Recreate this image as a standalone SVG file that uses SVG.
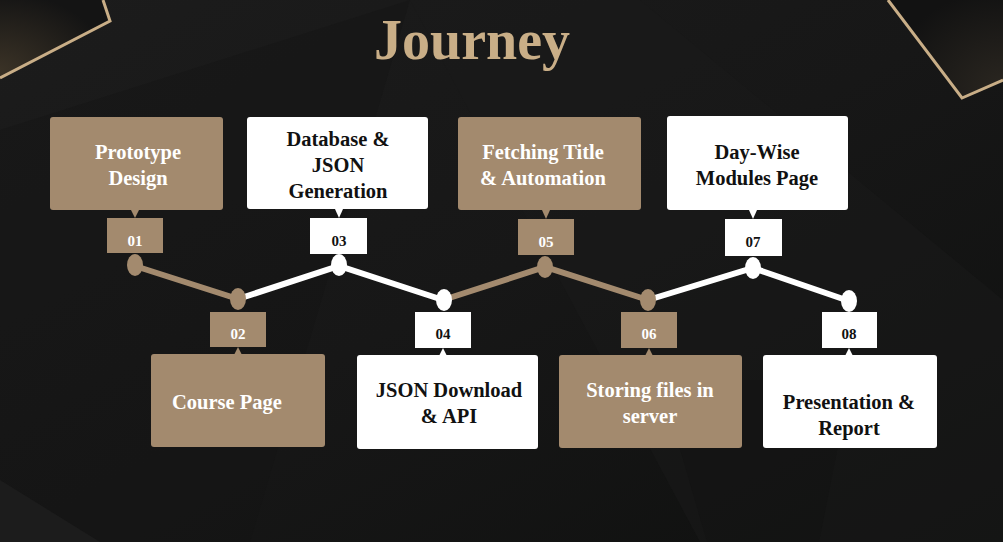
<svg xmlns="http://www.w3.org/2000/svg" width="1003" height="542" viewBox="0 0 1003 542">
<defs>
<linearGradient id="bg" x1="0" y1="0" x2="1" y2="1">
<stop offset="0" stop-color="#1c1c1c"/>
<stop offset="0.5" stop-color="#171717"/>
<stop offset="1" stop-color="#0f100f"/>
</linearGradient>
<radialGradient id="glowTL" cx="0" cy="0.9" r="1">
<stop offset="0" stop-color="#3a3226"/>
<stop offset="1" stop-color="#141414"/>
</radialGradient>
<radialGradient id="glowTR" cx="1" cy="0.9" r="1">
<stop offset="0" stop-color="#2a2620"/>
<stop offset="1" stop-color="#121212"/>
</radialGradient>
<style>
.brown{fill:#a38a6e}
.white{fill:#ffffff}
.box{rx:3;ry:3}
.t{font-family:"Liberation Serif","DejaVu Serif",serif;font-weight:bold;font-size:20.5px;text-anchor:middle}
.tw{fill:#ffffff}
.tb{fill:#111111}
.n{font-family:"Liberation Serif","DejaVu Serif",serif;font-weight:bold;font-size:15px;text-anchor:middle}
.lb{stroke:#a38a6e;stroke-width:6;fill:none;stroke-linecap:round}
.lw{stroke:#ffffff;stroke-width:6;fill:none;stroke-linecap:round}
.gold{stroke:#c9ae87;stroke-width:3;fill:none}
</style>
</defs>
<g id="background">
<rect x="0" y="0" width="1003" height="542" fill="url(#bg)"/>
<polygon points="410,0 640,0 1003,300 1003,542 700,542" fill="#1a1a1a" opacity="0.5"/>
<polygon points="0,130 410,0 250,542 0,542" fill="#151515" opacity="0.4"/>
<polygon points="0,480 0,542 100,542" fill="#1c1c1c"/>
<polygon points="660,380 707,542 819,542 851,380" fill="#111111" opacity="0.4"/>
<polygon points="0,0 103,0 110,21 0,78" fill="url(#glowTL)"/>
<polyline class="gold" points="0,78 110,21 103,0"/>
<polygon points="888,0 1003,0 1003,80 962,98" fill="url(#glowTR)"/>
<polyline class="gold" points="888,0 962,98 1003,80"/>
</g>
<g id="title">
<text x="472" y="59" font-family="'Liberation Serif','DejaVu Serif',serif" font-weight="bold" font-size="56" fill="#c9ae87" text-anchor="middle">Journey</text>
</g>
<g id="connectors">
<polyline class="lb" points="135,266 238,299"/>
<polyline class="lw" points="238,299 339,266 443,300"/>
<polyline class="lb" points="443,300 545,267 648,300"/>
<polyline class="lw" points="648,300 753,268 849,301"/>
<ellipse class="brown" cx="135" cy="265" rx="8" ry="11"/>
<ellipse class="brown" cx="238" cy="299" rx="8" ry="11"/>
<ellipse class="white" cx="339" cy="265" rx="8" ry="11"/>
<ellipse class="white" cx="444" cy="300" rx="8" ry="11"/>
<ellipse class="brown" cx="545" cy="267" rx="8" ry="11"/>
<ellipse class="brown" cx="648" cy="300" rx="8" ry="11"/>
<ellipse class="white" cx="753" cy="268" rx="8" ry="11"/>
<ellipse class="white" cx="849" cy="301" rx="8" ry="11"/>
</g>
<g id="step01">
<rect class="brown box" x="50" y="117" width="173" height="93"/>
<polygon class="brown" points="131,210 139,210 135,218"/>
<rect class="brown" x="107" y="218" width="56" height="35"/>
<text class="n tw" x="135" y="246">01</text>
<text class="t tw" x="138" y="159">Prototype</text>
<text class="t tw" x="138" y="185">Design</text>
</g>
<g id="step02">
<rect class="brown" x="210" y="312" width="56" height="35"/>
<text class="n tw" x="238" y="339">02</text>
<polygon class="brown" points="234,355 242,355 238,347"/>
<rect class="brown box" x="151" y="354" width="174" height="93"/>
<text class="t tw" x="227" y="409">Course Page</text>
</g>
<g id="step03">
<rect class="white box" x="247" y="117" width="181" height="92"/>
<polygon class="white" points="335,209 343,209 339,218"/>
<rect class="white" x="310" y="218" width="57" height="36"/>
<text class="n tb" x="339" y="246">03</text>
<text class="t tb" x="338" y="146">Database &amp;</text>
<text class="t tb" x="338" y="172">JSON</text>
<text class="t tb" x="338" y="198">Generation</text>
</g>
<g id="step04">
<rect class="white" x="415" y="312" width="56" height="36"/>
<text class="n tb" x="443" y="339">04</text>
<polygon class="white" points="439,356 447,356 443,348"/>
<rect class="white box" x="357" y="355" width="181" height="94"/>
<text class="t tb" x="449" y="397">JSON Download</text>
<text class="t tb" x="449" y="423">&amp; API</text>
</g>
<g id="step05">
<rect class="brown box" x="458" y="117" width="183" height="93"/>
<polygon class="brown" points="542,210 550,210 546,219"/>
<rect class="brown" x="518" y="219" width="56" height="36"/>
<text class="n tw" x="546" y="247">05</text>
<text class="t tw" x="543" y="159">Fetching Title</text>
<text class="t tw" x="543" y="185">&amp; Automation</text>
</g>
<g id="step06">
<rect class="brown" x="621" y="312" width="56" height="36"/>
<text class="n tw" x="649" y="339">06</text>
<polygon class="brown" points="645,356 653,356 649,348"/>
<rect class="brown box" x="559" y="355" width="183" height="93"/>
<text class="t tw" x="650" y="397">Storing files in</text>
<text class="t tw" x="650" y="423">server</text>
</g>
<g id="step07">
<rect class="white box" x="667" y="116" width="181" height="94"/>
<polygon class="white" points="749,210 757,210 753,219"/>
<rect class="white" x="725" y="219" width="57" height="37"/>
<text class="n tb" x="753" y="247">07</text>
<text class="t tb" x="757" y="159">Day-Wise</text>
<text class="t tb" x="757" y="185">Modules Page</text>
</g>
<g id="step08">
<rect class="white" x="822" y="312" width="55" height="36"/>
<text class="n tb" x="849" y="339">08</text>
<polygon class="white" points="845,356 853,356 849,348"/>
<rect class="white box" x="763" y="355" width="174" height="93"/>
<text class="t tb" x="849" y="409">Presentation &amp;</text>
<text class="t tb" x="849" y="435">Report</text>
</g>
</svg>
